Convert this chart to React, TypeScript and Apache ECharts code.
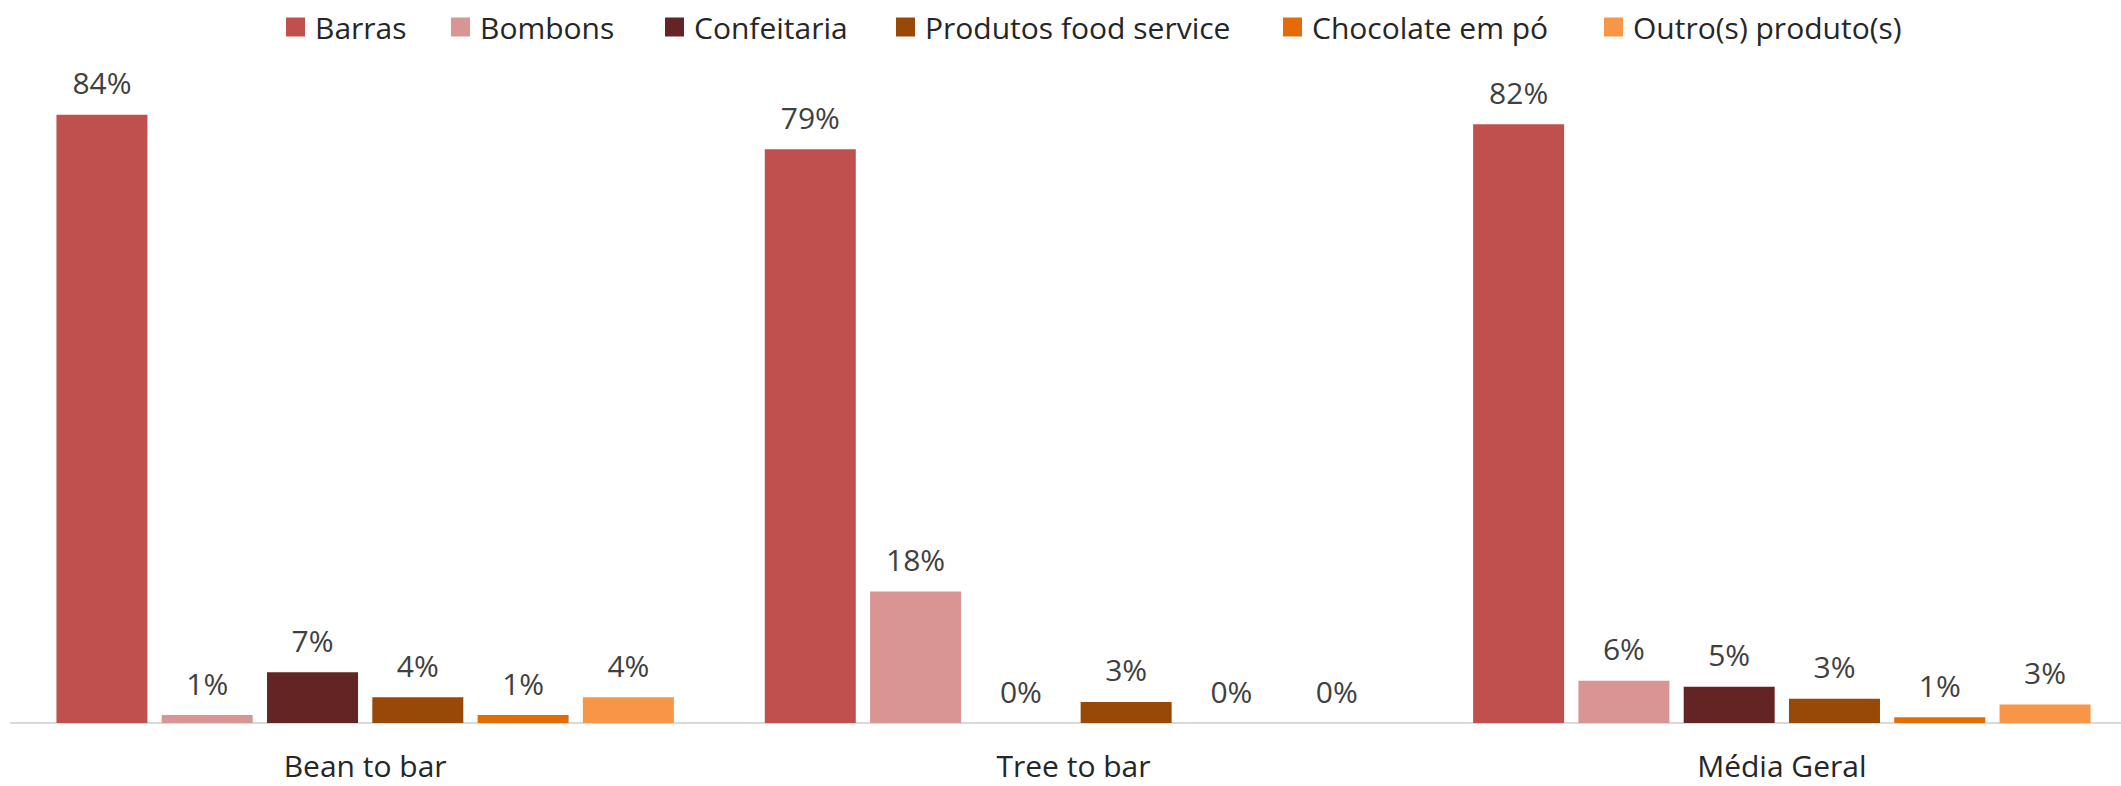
import React, { useEffect, useRef } from "react";
import * as echarts from "echarts";

const categories = ["Bean to bar", "Tree to bar", "Média Geral"];
const seriesNames = [
  "Barras",
  "Bombons",
  "Confeitaria",
  "Produtos food service",
  "Chocolate em pó",
  "Outro(s) produto(s)",
];
const barras = [83.7, 78.95, 82.4];
const bombons = [1.1, 18.1, 5.8];
const confeitaria = [7.0, 0, 5.0];
const produtosFood = [3.55, 2.9, 3.35];
const chocolatePo = [1.1, 0, 0.8];
const outros = [3.55, 0, 2.55];
const colors = ["#C0504D", "#D99594", "#632523", "#984807", "#E36C09", "#F79646"];
const legendLefts = [281, 446, 660, 891, 1278, 1599];

const FONT = "'Open Sans', sans-serif";

export default function App() {
  const ref = useRef<HTMLDivElement>(null);
  useEffect(() => {
    if (!ref.current) return;
    const chart = echarts.init(ref.current, null, { renderer: "svg" });
    const values = [barras, bombons, confeitaria, produtosFood, chocolatePo, outros];
    chart.setOption({
      animation: false,
      backgroundColor: "#ffffff",
      legend: seriesNames.map((name, i) => ({
        left: legendLefts[i],
        top: 7,
        itemWidth: 19,
        itemHeight: 19,
        icon: "rect",
        formatter: "{a|{name}}",
        textStyle: {
          fontFamily: FONT,
          fontSize: 30,
          color: "#262626",
          rich: { a: { padding: [0, 0, 0, 5], fontFamily: FONT, fontSize: 30, color: "#262626" } },
        },
        data: [name],
      })),
      grid: { left: 11, right: 0, top: 69, bottom: 63, containLabel: false },
      xAxis: {
        type: "category",
        data: categories,
        axisLine: { show: true, lineStyle: { color: "#d9d9d9", width: 2 } },
        axisTick: { show: false },
        axisLabel: {
          fontFamily: FONT,
          fontSize: 30,
          lineHeight: 30,
          color: "#262626",
          margin: 27,
        },
      },
      yAxis: { type: "value", min: 0, max: 90, show: false, splitLine: { show: false } },
      series: seriesNames.map((name, i) => ({
        name,
        type: "bar",
        data: values[i],
        barWidth: 91,
        barGap: "15.7%",
        itemStyle: { color: colors[i] },
        label: {
          show: true,
          position: "top",
          distance: 17,
          fontFamily: FONT,
          fontSize: 30,
          color: "#404040",
          formatter: (p: any) => Math.round(p.value) + "%",
        },
      })),
    });
    return () => chart.dispose();
  }, []);
  return (
    <div style={{ position: "absolute", left: 0, top: 0, width: 2121, height: 786, overflow: "hidden" }}>
      <div ref={ref} style={{ width: 2136, height: 786 }} />
    </div>
  );
}
